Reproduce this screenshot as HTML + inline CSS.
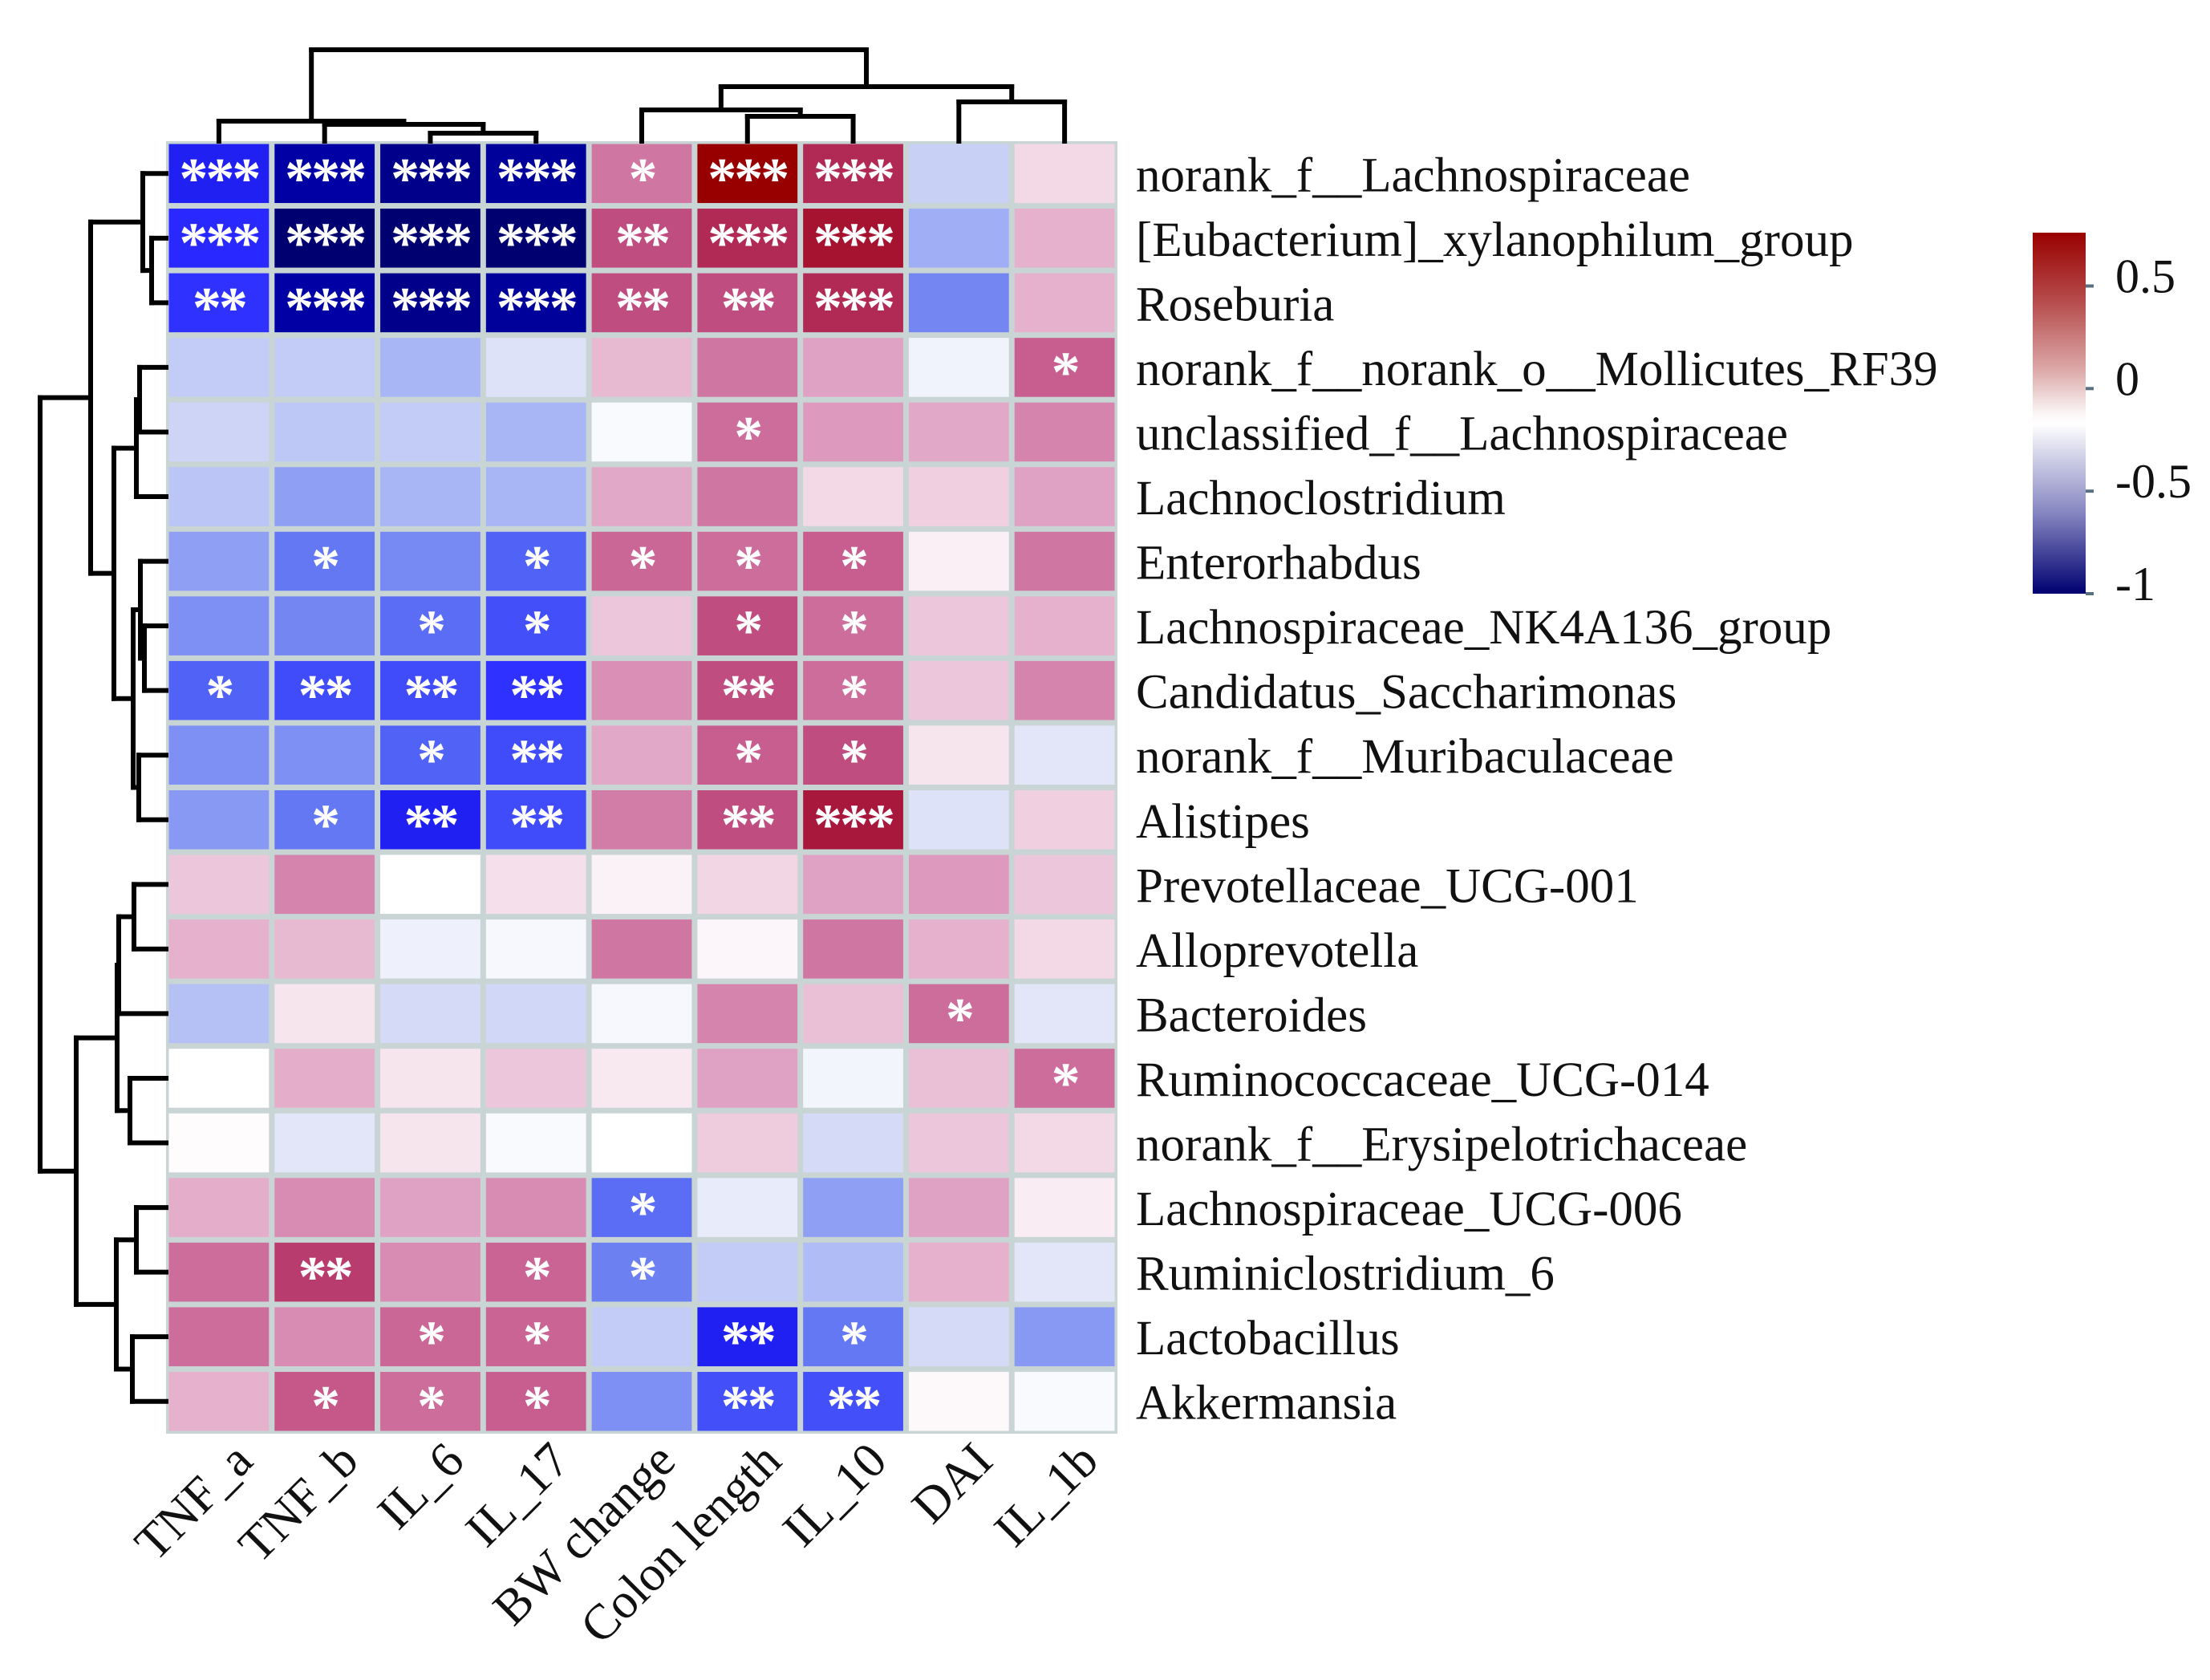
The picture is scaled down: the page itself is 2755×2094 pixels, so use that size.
<!DOCTYPE html>
<html><head><meta charset="utf-8">
<style>
html,body{margin:0;padding:0;background:#fff;}
svg{display:block;}
text{font-family:"Liberation Serif",serif;fill:#111;}
</style></head>
<body>
<svg id="chart" width="2755" height="2094" viewBox="0 0 2755 2094" xmlns="http://www.w3.org/2000/svg">
<defs>
<linearGradient id="cbgrad" x1="0" y1="0" x2="0" y2="1">
<stop offset="0" stop-color="#990000"/>
<stop offset="0.2" stop-color="#b85050"/>
<stop offset="0.38" stop-color="#dca8a8"/>
<stop offset="0.5" stop-color="#fbf5f5"/>
<stop offset="0.53" stop-color="#ffffff"/>
<stop offset="0.64" stop-color="#c8c8e4"/>
<stop offset="0.78" stop-color="#8484c0"/>
<stop offset="1" stop-color="#000070"/>
</linearGradient>
</defs>
<rect x="0" y="0" width="2755" height="2094" fill="#fff"/>
<g id="grid"></g>
<g id="stars"></g>
<g id="rowlabels"></g>
<g id="collabels"></g>
<g id="dendro"></g>
<g id="colorbar"></g>
</svg>
<script>
const columns = ["TNF_a","TNF_b","IL_6","IL_17","BW change","Colon length","IL_10","DAI","IL_1b"];
const rows = ["norank_f__Lachnospiraceae","[Eubacterium]_xylanophilum_group","Roseburia","norank_f__norank_o__Mollicutes_RF39","unclassified_f__Lachnospiraceae","Lachnoclostridium","Enterorhabdus","Lachnospiraceae_NK4A136_group","Candidatus_Saccharimonas","norank_f__Muribaculaceae","Alistipes","Prevotellaceae_UCG-001","Alloprevotella","Bacteroides","Ruminococcaceae_UCG-014","norank_f__Erysipelotrichaceae","Lachnospiraceae_UCG-006","Ruminiclostridium_6","Lactobacillus","Akkermansia"];
const values = [
[-0.72,-0.85,-0.9,-0.87,0.42,0.8,0.65,-0.2,0.12],
[-0.7,-0.97,-0.97,-0.97,0.55,0.65,0.72,-0.35,0.25],
[-0.68,-0.85,-0.9,-0.87,0.55,0.55,0.65,-0.48,0.25],
[-0.22,-0.22,-0.32,-0.12,0.22,0.42,0.3,-0.05,0.5],
[-0.18,-0.24,-0.22,-0.32,-0.02,0.45,0.32,0.28,0.38],
[-0.25,-0.4,-0.32,-0.32,0.28,0.42,0.12,0.15,0.3],
[-0.4,-0.52,-0.47,-0.58,0.47,0.45,0.5,0.05,0.42],
[-0.45,-0.48,-0.55,-0.62,0.18,0.55,0.45,0.18,0.25],
[-0.58,-0.63,-0.63,-0.68,0.35,0.55,0.45,0.18,0.38],
[-0.45,-0.45,-0.58,-0.63,0.28,0.5,0.55,0.08,-0.1],
[-0.42,-0.52,-0.72,-0.63,0.4,0.55,0.7,-0.12,0.15],
[0.18,0.38,0.0,0.1,0.04,0.13,0.3,0.32,0.18],
[0.25,0.22,-0.06,-0.03,0.42,0.03,0.42,0.25,0.12],
[-0.28,0.08,-0.15,-0.17,-0.03,0.38,0.2,0.45,-0.1],
[0.0,0.26,0.08,0.18,0.07,0.3,-0.04,0.2,0.45],
[0.01,-0.1,0.08,-0.02,0.0,0.16,-0.15,0.18,0.12],
[0.26,0.36,0.3,0.36,-0.55,-0.08,-0.4,0.3,0.06],
[0.45,0.6,0.36,0.48,-0.5,-0.22,-0.3,0.25,-0.1],
[0.45,0.36,0.47,0.48,-0.22,-0.72,-0.52,-0.15,-0.42],
[0.25,0.52,0.45,0.5,-0.45,-0.62,-0.62,0.02,-0.02]
];
const stars = [
["***","***","***","***","*","***","***","",""],
["***","***","***","***","**","***","***","",""],
["**","***","***","***","**","**","***","",""],
["","","","","","","","","*"],
["","","","","","*","","",""],
["","","","","","","","",""],
["","*","","*","*","*","*","",""],
["","","*","*","","*","*","",""],
["*","**","**","**","","**","*","",""],
["","","*","**","","*","*","",""],
["","*","**","**","","**","***","",""],
["","","","","","","","",""],
["","","","","","","","",""],
["","","","","","","","*",""],
["","","","","","","","","*"],
["","","","","","","","",""],
["","","","","*","","","",""],
["","**","","*","*","","","",""],
["","","*","*","","**","*","",""],
["","*","*","*","","**","**","",""]
];
const cbTicks = [0.5, 0, -0.5, -1];
const cbTickLabels = ["0.5","0","-0.5","-1"];
// dendrogram topology: [left, right, height]; leaves are numbers
const colTree = [[0,[1,[2,3,166],155],151],[[4,[5,6,145],137],[7,8,127],108],62];
const rowTree = [
  [[0,[1,2,189],178],[[[3,4,174],5,170],[[6,[7,8,180],175],[9,10,173],166],142],113],
  [[[[11,12,167],13,148],[14,15,162],146],[[16,17,170],[18,19,165],145],95],
  50];

const NS = "http://www.w3.org/2000/svg";
const GX0=207, GX1=1393, GY0=176, GY1=1787;
const cw=(GX1-GX0)/columns.length, ch=(GY1-GY0)/rows.length;
const xc = i => GX0 + cw*(i+0.5);
const yc = j => GY0 + ch*(j+0.5);
const CBY0=290, CBY1=740, CBVMAX=0.76, CBVMIN=-1;
const cbY = v => CBY0 + (CBVMAX - v)/(CBVMAX-CBVMIN)*(CBY1-CBY0);

const stops = [[-1,[0,0,102]],[-0.9,[0,0,138]],[-0.8,[0,0,192]],[-0.7,[40,40,255]],[-0.6,[74,90,248]],[-0.5,[108,128,242]],[-0.4,[143,159,244]],[-0.3,[176,188,245]],[-0.2,[200,208,246]],[-0.1,[226,230,248]],[0,[255,255,255]],[0.1,[245,223,234]],[0.2,[234,192,214]],[0.3,[224,162,196]],[0.4,[210,124,168]],[0.5,[200,94,144]],[0.6,[184,60,110]],[0.7,[168,24,60]],[0.8,[152,0,0]]];
function color(v){
  if(v<=stops[0][0]) return 'rgb('+stops[0][1]+')';
  for(let k=1;k<stops.length;k++){
    if(v<=stops[k][0]){
      const [a,ca]=stops[k-1],[b,cb]=stops[k],t=(v-a)/(b-a);
      return 'rgb('+ca.map((c,i)=>Math.round(c+(cb[i]-c)*t)).join(',')+')';
    }
  }
  return 'rgb('+stops[stops.length-1][1]+')';
}
function mk(tag, attrs, parent){
  const e=document.createElementNS(NS,tag);
  for(const k in attrs) e.setAttribute(k,attrs[k]);
  parent.appendChild(e); return e;
}
const grid=document.getElementById('grid');
mk('rect',{x:GX0,y:GY0,width:GX1-GX0,height:GY1-GY0,fill:'#c9d5d5'},grid);
const starG=document.getElementById('stars');
rows.forEach((r,j)=>{
  columns.forEach((c,i)=>{
    const rc=mk('rect',{x:GX0+cw*i+3.5,y:GY0+ch*j+3.5,width:cw-7,height:ch-7,fill:color(values[j][i])},grid);
    
    
    if(stars[j][i]){
      const t=mk('text',{x:xc(i),y:yc(j)+30,'text-anchor':'middle','font-size':72,'font-weight':'bold','letter-spacing':'-3'},starG);
      t.style.fill='#fff';
      t.textContent=stars[j][i];
      
      
    }
  });
});
const rl=document.getElementById('rowlabels');
rows.forEach((r,j)=>{
  const t=mk('text',{x:1416,y:yc(j)+22,'font-size':61},rl);
  t.textContent=r;
  
  
});
const cl=document.getElementById('collabels');
columns.forEach((c,i)=>{
  const x=xc(i)+45, y=1824;
  const t=mk('text',{x:x,y:y,'font-size':62,'text-anchor':'end',transform:'rotate(-45 '+x+' '+y+')'},cl);
  t.textContent=c;
  
  
});
// dendrograms
const dg=document.getElementById('dendro');
function line(x1,y1,x2,y2){
  const l=mk('line',{x1:x1,y1:y1,x2:x2,y2:y2,stroke:'#000','stroke-width':6,'stroke-linecap':'square'},dg);
  
  
}
function drawCol(node){
  if(typeof node==='number') return [xc(node), GY0];
  const a=drawCol(node[0]), b=drawCol(node[1]), h=node[2];
  line(a[0],a[1],a[0],h); line(b[0],b[1],b[0],h); line(a[0],h,b[0],h);
  return [(a[0]+b[0])/2,h];
}
function drawRow(node){
  if(typeof node==='number') return [GX0, yc(node)];
  const a=drawRow(node[0]), b=drawRow(node[1]), h=node[2];
  line(a[0],a[1],h,a[1]); line(b[0],b[1],h,b[1]); line(h,a[1],h,b[1]);
  return [h,(a[1]+b[1])/2];
}
drawCol(colTree); drawRow(rowTree);
// colorbar
const cb=document.getElementById('colorbar');
const bar=mk('rect',{x:2534,y:CBY0,width:66,height:CBY1-CBY0,fill:'url(#cbgrad)'},cb);


cbTicks.forEach((v,k)=>{
  const y=cbY(v);
  const tk=mk('line',{x1:2600,y1:y,x2:2610,y2:y,stroke:'#5a7080','stroke-width':4},cb);
  
  
  const t=mk('text',{x:2637,y:y+8,'font-size':60},cb);
  t.textContent=cbTickLabels[k];
  
  
});
</script>
</body></html>
